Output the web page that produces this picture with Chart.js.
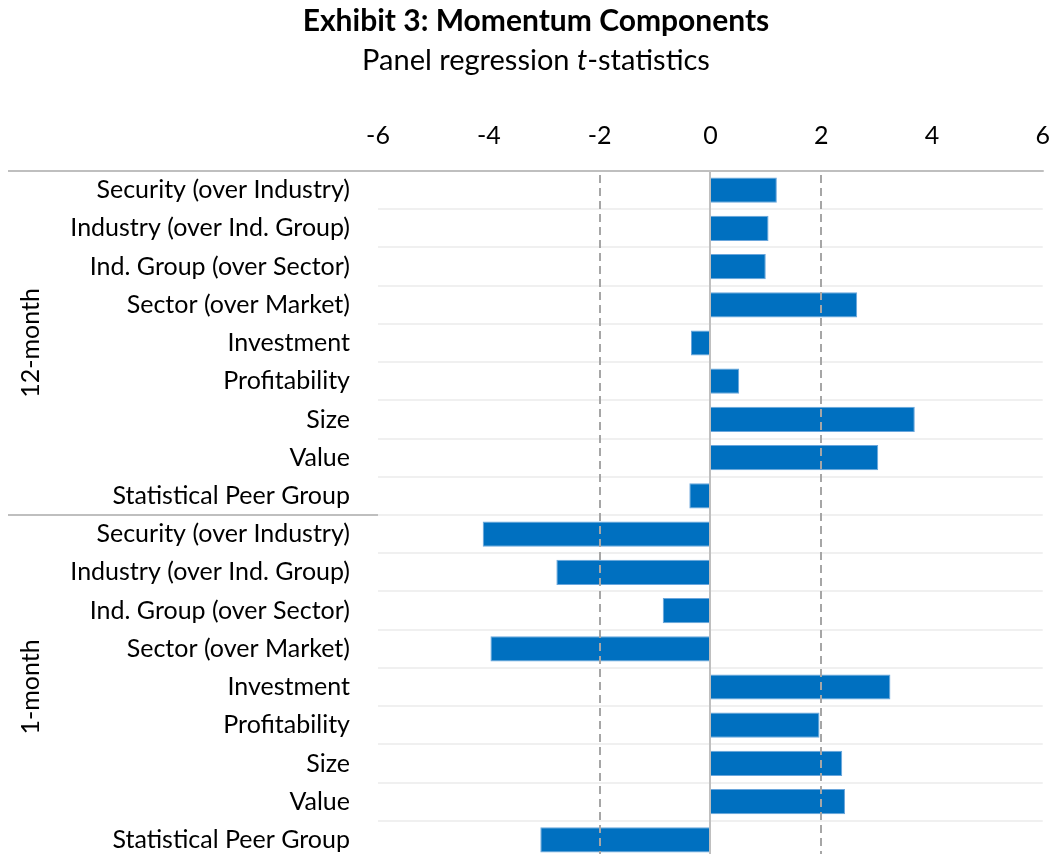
<!DOCTYPE html>
<html>
<head>
<meta charset="utf-8">
<script src="https://cdn.jsdelivr.net/npm/chart.js@4.4.0/dist/chart.umd.min.js"></script>
<style>
  html, body { margin: 0; padding: 0; background: #fff; overflow: hidden; }
  #wrap { position: relative; width: 1052px; height: 854px; overflow: hidden; }
  #chart { position: absolute; left: 0; top: 0; }
</style>
</head>
<body>
<div id="wrap"><canvas id="chart" width="1062" height="902"></canvas></div>
<script>
// rows inside each horizon group, top to bottom
const components = [
  "Security (over Industry)",
  "Industry (over Ind. Group)",
  "Ind. Group (over Sector)",
  "Sector (over Market)",
  "Investment",
  "Profitability",
  "Size",
  "Value",
  "Statistical Peer Group"
];
const groups = ["12-month", "1-month"];

// t-statistics
const twelveMonth = [1.20, 1.05, 1.00, 2.65, -0.35, 0.52, 3.69, 3.03, -0.38];
const oneMonth    = [-4.11, -2.78, -0.86, -3.97, 3.25, 1.97, 2.38, 2.43, -3.07];

const xTicks   = [-6, -4, -2, 0, 2, 4, 6];
const refLines = [-2, 2];   // dashed significance lines

const FONT = "Lato, 'Open Sans', sans-serif";
const LABEL_SIZE = 25;

const labels = components.concat(components);
const values = twelveMonth.concat(oneMonth);

// titles, reference lines, group labels and separators
const decorations = {
  id: "decorations",
  afterDatasetsDraw(chart) {
    const { ctx, chartArea: area, scales: { x, y } } = chart;
    ctx.save();

    // dashed lines at +/-2
    ctx.strokeStyle = "#a6a6a6";
    ctx.lineWidth = 2;
    ctx.setLineDash([8, 5]);
    refLines.forEach(v => {
      const px = Math.round(x.getPixelForValue(v));
      ctx.beginPath();
      ctx.moveTo(px, area.top + 4);
      ctx.lineTo(px, area.bottom);
      ctx.stroke();
    });
    ctx.setLineDash([]);

    // zero line
    ctx.strokeStyle = "#bfbfbf";
    ctx.lineWidth = 2;
    const zx = Math.round(x.getPixelForValue(0));
    ctx.beginPath();
    ctx.moveTo(zx, area.top);
    ctx.lineTo(zx, area.bottom);
    ctx.stroke();

    // top axis line running into the label column
    ctx.beginPath();
    ctx.moveTo(8, area.top);
    ctx.lineTo(area.right + 1, area.top);
    ctx.stroke();

    // group separator in the label column
    const n = components.length;
    const sepY = (y.getPixelForValue(n - 1) + y.getPixelForValue(n)) / 2;
    ctx.beginPath();
    ctx.moveTo(8, sepY);
    ctx.lineTo(area.left, sepY);
    ctx.stroke();

    // rotated group labels
    ctx.fillStyle = "#000";
    ctx.font = `${LABEL_SIZE}px ${FONT}`;
    ctx.textAlign = "center";
    ctx.textBaseline = "middle";
    groups.forEach((g, i) => {
      const cy = (y.getPixelForValue(i * n) + y.getPixelForValue(i * n + n - 1)) / 2;
      ctx.save();
      ctx.translate(31, cy);
      ctx.rotate(-Math.PI / 2);
      ctx.fillText(g, 0, 0);
      ctx.restore();
    });

    // title + subtitle (italic t)
    const cx = 536;
    ctx.textBaseline = "alphabetic";
    ctx.font = `bold 30px ${FONT}`;
    ctx.fillText("Exhibit 3: Momentum Components", cx, 31);

    const parts = [["Panel regression ", ""], ["t", "italic "], ["-statistics", ""]];
    let total = 0;
    parts.forEach(p => { ctx.font = `${p[1]}29px ${FONT}`; total += ctx.measureText(p[0]).width; });
    let px = cx - total / 2;
    ctx.textAlign = "left";
    parts.forEach(p => {
      ctx.font = `${p[1]}29px ${FONT}`;
      ctx.fillText(p[0], px, 70);
      px += ctx.measureText(p[0]).width;
    });

    ctx.restore();
  }
};

new Chart(document.getElementById("chart"), {
  type: "bar",
  data: {
    labels: labels,
    datasets: [{
      data: values,
      backgroundColor: "#0070c0",
      borderColor: "#6aa6dc",
      borderWidth: 1,
      categoryPercentage: 1,
      barPercentage: 0.66
    }]
  },
  options: {
    indexAxis: "y",
    responsive: false,
    animation: false,
    devicePixelRatio: 1,
    layout: { padding: { top: 0, left: 0, right: 12, bottom: 21 } },
    plugins: {
      legend: { display: false },
      tooltip: { enabled: false }
    },
    scales: {
      x: {
        position: "top",
        min: -6,
        max: 6,
        afterBuildTicks: scale => { scale.ticks = xTicks.map(v => ({ value: v })); },
        afterFit: scale => { scale.height = 171; },
        grid: { display: false },
        border: { display: false },
        ticks: {
          color: "#000",
          padding: 12,
          font: { family: FONT, size: LABEL_SIZE }
        }
      },
      y: {
        afterFit: scale => { scale.width = 378; },
        grid: {
          offset: true,
          color: "#f0f0f0",
          lineWidth: 2,
          drawTicks: false
        },
        border: { display: false },
        ticks: {
          color: "#000",
          padding: 28,
          autoSkip: false,
          font: { family: FONT, size: LABEL_SIZE }
        }
      }
    }
  },
  plugins: [decorations]
});
</script>
</body>
</html>
